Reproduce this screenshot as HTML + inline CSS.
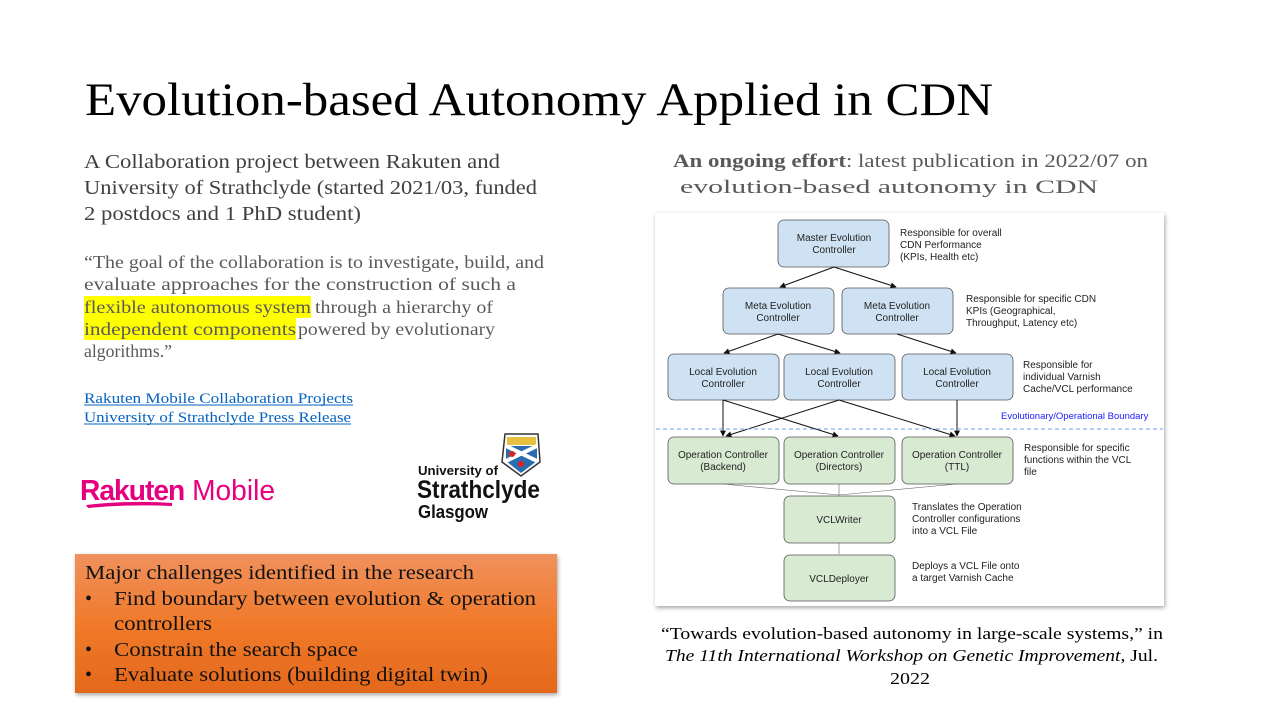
<!DOCTYPE html>
<html><head><meta charset="utf-8"><style>
html,body{margin:0;padding:0;background:#fff;}
svg{display:block;}
.s{font-family:"Liberation Serif",serif;}
.d{font-family:"Liberation Sans",sans-serif;font-size:10px;fill:#222;}
</style></head><body>
<svg width="1280" height="720" viewBox="0 0 1280 720" xmlns="http://www.w3.org/2000/svg">
<defs>
<linearGradient id="og" x1="0" y1="0" x2="0" y2="1"><stop offset="0" stop-color="#f0915e"/><stop offset="0.5" stop-color="#f07a2a"/><stop offset="1" stop-color="#e4681c"/></linearGradient>
<filter id="sh" x="-5%" y="-5%" width="110%" height="115%"><feDropShadow dx="1" dy="2" stdDeviation="2" flood-opacity="0.35"/></filter>
<marker id="ar" viewBox="0 0 10 10" refX="9" refY="5" markerWidth="6" markerHeight="6" orient="auto"><path d="M0,0 L10,5 L0,10z" fill="#111"/></marker>
</defs>
<text class="s" x="85" y="115" font-size="47" fill="#000" textLength="908" lengthAdjust="spacingAndGlyphs">Evolution-based Autonomy Applied in CDN</text>
<g class="s" font-size="20" fill="#404040">
<text x="84" y="168" textLength="416" lengthAdjust="spacingAndGlyphs">A Collaboration project between Rakuten and</text>
<text x="84" y="194" textLength="453" lengthAdjust="spacingAndGlyphs">University of Strathclyde (started 2021/03, funded</text>
<text x="84" y="220" textLength="277" lengthAdjust="spacingAndGlyphs">2 postdocs and 1 PhD student)</text>
</g>
<rect x="84" y="296" width="227" height="22" fill="#ffff00"/>
<rect x="84" y="318" width="212" height="22" fill="#ffff00"/>
<g class="s" font-size="18" fill="#595959">
<text x="84" y="268" textLength="460" lengthAdjust="spacingAndGlyphs">“The goal of the collaboration is to investigate, build, and</text>
<text x="84" y="290" textLength="432" lengthAdjust="spacingAndGlyphs">evaluate approaches for the construction of such a</text>
<text x="84" y="313" textLength="227" lengthAdjust="spacingAndGlyphs">flexible autonomous system</text>
<text x="315" y="313" textLength="178" lengthAdjust="spacingAndGlyphs">through a hierarchy of</text>
<text x="84" y="335" textLength="212" lengthAdjust="spacingAndGlyphs">independent components</text>
<text x="298" y="335" textLength="197" lengthAdjust="spacingAndGlyphs">powered by evolutionary</text>
<text x="84" y="357" textLength="88" lengthAdjust="spacingAndGlyphs">algorithms.”</text>
</g>
<g class="s" font-size="15" fill="#0563c1">
<text x="84" y="403" textLength="269" lengthAdjust="spacingAndGlyphs">Rakuten Mobile Collaboration Projects</text>
<text x="84" y="422" textLength="267" lengthAdjust="spacingAndGlyphs">University of Strathclyde Press Release</text>
</g>
<line x1="84" y1="405" x2="353" y2="405" stroke="#0563c1"/>
<line x1="84" y1="424" x2="351" y2="424" stroke="#0563c1"/>
<text x="80" y="500" font-family="Liberation Sans,sans-serif" font-size="29" fill="#e6007e" textLength="195" lengthAdjust="spacingAndGlyphs"><tspan font-weight="bold" letter-spacing="-1">Rakuten</tspan><tspan> Mobile</tspan></text>
<path d="M86 505 Q130 500 172 503 L172 506 Q130 504 88 508z" fill="#e6007e"/>
<g font-family="Liberation Sans,sans-serif" font-weight="bold" fill="#111">
<text x="418" y="475" font-size="13" textLength="80" lengthAdjust="spacingAndGlyphs">University of</text>
<text x="417" y="498" font-size="25" textLength="123" lengthAdjust="spacingAndGlyphs">Strathclyde</text>
<text x="418" y="518" font-size="18" textLength="70" lengthAdjust="spacingAndGlyphs">Glasgow</text>
</g>
<path d="M505 434 L538 434 L540 462 L521 476 L502 462z" fill="#fff" stroke="#333" stroke-width="1.5"/>
<rect x="507" y="437" width="29" height="8" fill="#e8c040"/>
<path d="M506 446 L537 446 L537 461 L521 473 L506 461z" fill="#2a6cb0"/>
<path d="M506 446 L537 461 M537 446 L506 461" stroke="#fff" stroke-width="4"/>
<circle cx="512" cy="454" r="3" fill="#d22"/><circle cx="521" cy="464" r="3" fill="#d22"/>
<rect x="75" y="554" width="482" height="139" fill="url(#og)" filter="url(#sh)"/>
<g class="s" font-size="20" fill="#111">
<text x="85" y="579" textLength="389" lengthAdjust="spacingAndGlyphs">Major challenges identified in the research</text>
<text x="85" y="605">•</text><text x="114" y="605" textLength="422" lengthAdjust="spacingAndGlyphs">Find boundary between evolution &amp; operation</text>
<text x="114" y="630" textLength="98" lengthAdjust="spacingAndGlyphs">controllers</text>
<text x="85" y="656">•</text><text x="114" y="656" textLength="244" lengthAdjust="spacingAndGlyphs">Constrain the search space</text>
<text x="85" y="681">•</text><text x="114" y="681" textLength="374" lengthAdjust="spacingAndGlyphs">Evaluate solutions (building digital twin)</text>
</g>
<g class="s" font-size="19" fill="#595959">
<text x="673" y="167" textLength="475" lengthAdjust="spacingAndGlyphs"><tspan font-weight="bold">An ongoing effort</tspan>: latest publication in 2022/07 on</text>
<text x="680" y="193" textLength="418" lengthAdjust="spacingAndGlyphs">evolution-based autonomy in CDN</text>
</g>
<g class="s" font-size="17" fill="#000">
<text x="661" y="639" textLength="502" lengthAdjust="spacingAndGlyphs">“Towards evolution-based autonomy in large-scale systems,” in</text>
<text x="665" y="661" textLength="493" lengthAdjust="spacingAndGlyphs"><tspan font-style="italic">The 11th International Workshop on Genetic Improvement</tspan>, Jul.</text>
<text x="890" y="684" textLength="40" lengthAdjust="spacingAndGlyphs">2022</text>
</g>
<rect x="655" y="213" width="509" height="393" fill="#fff" filter="url(#sh)"/>
<g stroke="#555" stroke-width="0.8">
<g fill="#cfe2f3">
<rect x="778" y="220" width="111" height="47" rx="6"/>
<rect x="723" y="288" width="111" height="46" rx="6"/>
<rect x="842" y="288" width="111" height="46" rx="6"/>
<rect x="668" y="354" width="111" height="46" rx="6"/>
<rect x="784" y="354" width="111" height="46" rx="6"/>
<rect x="902" y="354" width="111" height="46" rx="6"/>
</g>
<g fill="#d9ead3">
<rect x="668" y="437" width="111" height="47" rx="6"/>
<rect x="784" y="437" width="111" height="47" rx="6"/>
<rect x="902" y="437" width="111" height="47" rx="6"/>
<rect x="784" y="496" width="111" height="47" rx="6"/>
<rect x="784" y="555" width="111" height="46" rx="6"/>
</g>
</g>
<g stroke="#111" stroke-width="1" marker-end="url(#ar)">
<line x1="834" y1="267" x2="780" y2="287"/>
<line x1="834" y1="267" x2="896" y2="287"/>
<line x1="778" y1="334" x2="724" y2="353"/>
<line x1="778" y1="334" x2="840" y2="353"/>
<line x1="897" y1="334" x2="956" y2="353"/>
<line x1="723" y1="400" x2="723" y2="436"/>
<line x1="723" y1="400" x2="838" y2="436"/>
<line x1="839" y1="400" x2="726" y2="436"/>
<line x1="839" y1="400" x2="955" y2="436"/>
<line x1="957" y1="400" x2="957" y2="436"/>
</g>
<g stroke="#666" stroke-width="0.6">
<line x1="723" y1="484" x2="839" y2="495"/><line x1="957" y1="484" x2="839" y2="495"/><line x1="839" y1="484" x2="839" y2="495"/>
<line x1="839" y1="543" x2="839" y2="554"/>
</g>
<line x1="656" y1="429" x2="1163" y2="429" stroke="#6d9eeb" stroke-dasharray="4,3"/>
<text x="1001" y="419" font-family="Liberation Sans,sans-serif" font-size="9.5" fill="#1a1aff">Evolutionary/Operational Boundary</text>
<g class="d" text-anchor="middle">
<text x="834" y="241">Master Evolution</text><text x="834" y="253">Controller</text>
<text x="778" y="309">Meta Evolution</text><text x="778" y="321">Controller</text>
<text x="897" y="309">Meta Evolution</text><text x="897" y="321">Controller</text>
<text x="723" y="375">Local Evolution</text><text x="723" y="387">Controller</text>
<text x="839" y="375">Local Evolution</text><text x="839" y="387">Controller</text>
<text x="957" y="375">Local Evolution</text><text x="957" y="387">Controller</text>
<text x="723" y="458">Operation Controller</text><text x="723" y="470">(Backend)</text>
<text x="839" y="458">Operation Controller</text><text x="839" y="470">(Directors)</text>
<text x="957" y="458">Operation Controller</text><text x="957" y="470">(TTL)</text>
<text x="839" y="523">VCLWriter</text>
<text x="839" y="582">VCLDeployer</text>
</g>
<g class="d" font-size="9.5">
<text x="900" y="236">Responsible for overall</text><text x="900" y="248">CDN Performance</text><text x="900" y="260">(KPIs, Health etc)</text>
<text x="966" y="302">Responsible for specific CDN</text><text x="966" y="314">KPIs (Geographical,</text><text x="966" y="326">Throughput, Latency etc)</text>
<text x="1023" y="368">Responsible for</text><text x="1023" y="380">individual Varnish</text><text x="1023" y="392">Cache/VCL performance</text>
<text x="1024" y="451">Responsible for specific</text><text x="1024" y="463">functions within the VCL</text><text x="1024" y="475">file</text>
<text x="912" y="510">Translates the Operation</text><text x="912" y="522">Controller configurations</text><text x="912" y="534">into a VCL File</text>
<text x="912" y="569">Deploys a VCL File onto</text><text x="912" y="581">a target Varnish Cache</text>
</g>
</svg>
</body></html>
